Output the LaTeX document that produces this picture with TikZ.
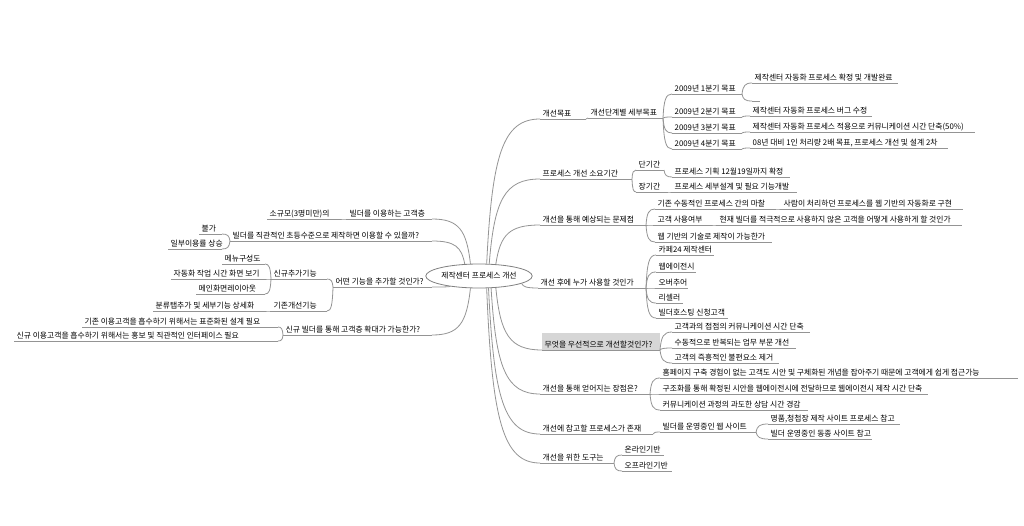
\documentclass[tikz,border=0pt]{standalone}
\usepackage{fontspec}
\setmainfont{Noto Sans CJK KR}
\usetikzlibrary{calc,shapes.geometric}
\tikzset{
 txt/.style={anchor=base west, inner sep=0pt, font=\fontsize{7.8}{9}\selectfont, text=black},
 ul/.style={draw=black!42, line width=0.8pt},
 con/.style={draw=black!42, line width=0.8pt},
 rootnode/.style={draw=black!50, line width=0.8pt, ellipse, minimum width=80pt, minimum height=24pt, inner sep=0pt, font=\fontsize{7.8}{9}\selectfont, text=black},
}
\newcommand\tp[5]{%
 \coordinate (#1-l) at (#2,#4); \coordinate (#1-r) at (#3,#4);
 \node[txt] (#1) at (#2+2.5,#4-3) {#5};
 \draw[ul] (#1-l) -- (#1-r);}
\newcommand\lk[2]{\draw[con] let \p1=(#1), \p2=(#2) in (#1) .. controls ({\x1+0.1*(\x2-\x1)},{\y1+0.75*(\y2-\y1)}) and ({\x1+0.3*(\x2-\x1)},{\y2}) .. (#2);}
\begin{document}
\begin{tikzpicture}[x=1pt,y=-1pt]
\fill[white] (0,0) rectangle (1024,525);
\useasboundingbox (0,0) rectangle (1024,525);
\node[rootnode] (root) at (479,276) {제작센터 프로세스 개선};

% ---------- right side ----------
\tp{R1}{540}{586}{119}{개선목표}
\tp{R1a}{588}{663}{118}{개선단계별 세부목표}
\tp{Q1}{672}{742}{94}{2009년 1분기 목표}
\tp{Q1a}{752}{898}{83}{제작센터 자동화 프로세스 확정 및 개발완료}
\tp{Q1b}{752}{760}{101}{}
\tp{Q2}{672}{742}{117}{2009년 2분기 목표}
\tp{Q2a}{750}{872}{116}{제작센터 자동화 프로세스 버그 수정}
\tp{Q3}{672}{742}{133}{2009년 3분기 목표}
\tp{Q3a}{750}{975}{132}{제작센터 자동화 프로세스 적용으로 커뮤니케이션 시간 단축(50\%)}
\tp{Q4}{672}{742}{149}{2009년 4분기 목표}
\tp{Q4a}{750}{948}{148}{08년 대비 1인 처리량 2배 목표, 프로세스 개선 및 설계 2차}

\tp{R2}{540}{632}{179}{프로세스 개선 소요기간}
\tp{S1}{636}{664}{170}{단기간}
\tp{S1a}{672}{790}{177}{프로세스 기획 12월19일까지 확정}
\tp{S2}{636}{668}{192}{장기간}
\tp{S2a}{672}{797}{192}{프로세스 세부설계 및 필요 기능개발}

\tp{R3}{540}{646}{225}{개선을 통해 예상되는 문제점}
\tp{P1}{655}{775}{209}{기존 수동적인 프로세스 간의 마찰}
\tp{P1a}{781}{963}{209}{사람이 처리하던 프로세스를 웹 기반의 자동화로 구현}
\tp{P2}{655}{712}{225}{고객 사용여부}
\tp{P2a}{717}{962}{225}{현재 빌더를 적극적으로 사용하지 않은 고객을 어떻게 사용하게 할 것인가}
\tp{P3}{655}{772}{242}{웹 기반의 기술로 제작이 가능한가}

\tp{R4}{538}{646}{288}{개선 후에 누가 사용할 것인가}
\tp{U1}{656}{714}{255}{카페24 제작센터}
\tp{U2}{656}{696}{272}{웹에이전시}
\tp{U3}{656}{688}{288}{오버추어}
\tp{U4}{656}{683}{303}{리셀러}
\tp{U5}{656}{728}{318}{빌더호스팅 신청고객}

\fill[black!16] (542,333) rectangle (660,351);
\tp{R5}{542}{660}{350}{무엇을 우선적으로 개선할것인가?}
\tp{W1}{672}{810}{332}{고객과의 접점의 커뮤니케이션 시간 단축}
\tp{W2}{672}{796}{348}{수동적으로 반복되는 업무 부문 개선}
\tp{W3}{672}{779}{363}{고객의 즉흥적인 불편요소 제거}

\tp{R6}{540}{650}{394}{개선을 통해 얻어지는 장점은?}
\tp{A1}{660}{1018}{378}{홈페이지 구축 경험이 없는 고객도 시안 및 구체화된 개념을 잡아주기 때문에 고객에게 쉽게 접근가능}
\tp{A2}{660}{928}{394}{구조화를 통해 확정된 시안을 웹에이전시에 전달하므로 웹에이전시 제작 시간 단축}
\tp{A3}{660}{808}{410}{커뮤니케이션 과정의 과도한 상담 시간 경감}

\tp{R7}{540}{653}{434}{개선에 참고할 프로세스가 존재}
\tp{B1}{660}{756}{432}{빌더를 운영중인 웹 사이트}
\tp{B1a}{768}{900}{424}{명품,청첩장 제작 사이트 프로세스 참고}
\tp{B1b}{768}{872}{439}{빌더 운영중인 동종 사이트 참고}

\tp{R8}{540}{614}{463}{개선을 위한 도구는}
\tp{T1}{622}{664}{455}{온라인기반}
\tp{T2}{622}{672}{471}{오프라인기반}

% ---------- left side ----------
\tp{L1}{347}{432}{219}{빌더를 이용하는 고객층}
\tp{L1a}{267}{340}{219}{소규모(3명미만)의}
\tp{L2}{230}{432}{241}{빌더를 직관적인 초등수준으로 제작하면 이용할 수 있을까?}
\tp{L2a}{199}{222}{234}{불가}
\tp{L2b}{168}{222}{249}{일부이용률 상승}
\tp{L3}{333}{432}{287}{어떤 기능을 추가할 것인가?}
\tp{L3a}{271}{327}{279}{신규추가기능}
\tp{M1}{222}{265}{264}{메뉴구성도}
\tp{M2}{171}{265}{279}{자동화 작업 시간 화면 보기}
\tp{M3}{196}{265}{294}{메인화면레이아웃}
\tp{L3b}{271}{327}{311}{기존개선기능}
\tp{M4}{153}{265}{311}{분류탭추가 및 세부기능 상세화}
\tp{L4}{283}{432}{335}{신규 빌더를 통해 고객층 확대가 가능한가?}
\tp{L4a}{82}{278}{327}{기존 이용고객을 흡수하기 위해서는 표준화된 설계 필요}
\tp{L4b}{14}{278}{341}{신규 이용고객을 흡수하기 위해서는 홍보 및 직관적인 인터페이스 필요}

% ---------- connectors ----------
\lk{root.58}{R1-l}
\lk{root.50}{R2-l}
\lk{root.35}{R3-l}
\lk{root.-10}{R4-l}
\lk{root.-35}{R5-l}
\lk{root.-45}{R6-l}
\lk{root.-52}{R7-l}
\lk{root.-58}{R8-l}
\lk{root.125}{L1-r}
\lk{root.140}{L2-r}
\lk{root.200}{L3-r}
\lk{root.235}{L4-r}

\lk{R1-r}{R1a-l}
\lk{R1a-r}{Q1-l}\lk{R1a-r}{Q2-l}\lk{R1a-r}{Q3-l}\lk{R1a-r}{Q4-l}
\lk{Q1-r}{Q1a-l}\lk{Q1-r}{Q1b-l}
\lk{Q2-r}{Q2a-l}\lk{Q3-r}{Q3a-l}\lk{Q4-r}{Q4a-l}
\lk{R2-r}{S1-l}\lk{R2-r}{S2-l}
\lk{S1-r}{S1a-l}\lk{S2-r}{S2a-l}
\lk{R3-r}{P1-l}\lk{R3-r}{P2-l}\lk{R3-r}{P3-l}
\lk{P1-r}{P1a-l}\lk{P2-r}{P2a-l}
\lk{R4-r}{U1-l}\lk{R4-r}{U2-l}\lk{R4-r}{U3-l}\lk{R4-r}{U4-l}\lk{R4-r}{U5-l}
\lk{R5-r}{W1-l}\lk{R5-r}{W2-l}\lk{R5-r}{W3-l}
\lk{R6-r}{A1-l}\lk{R6-r}{A2-l}\lk{R6-r}{A3-l}
\lk{R7-r}{B1-l}
\lk{B1-r}{B1a-l}\lk{B1-r}{B1b-l}
\lk{R8-r}{T1-l}\lk{R8-r}{T2-l}

\lk{L1-l}{L1a-r}
\lk{L2-l}{L2a-r}\lk{L2-l}{L2b-r}
\lk{L3-l}{L3a-r}\lk{L3-l}{L3b-r}
\lk{L3a-l}{M1-r}\lk{L3a-l}{M2-r}\lk{L3a-l}{M3-r}
\lk{L3b-l}{M4-r}
\lk{L4-l}{L4a-r}\lk{L4-l}{L4b-r}
\end{tikzpicture}
\end{document}
